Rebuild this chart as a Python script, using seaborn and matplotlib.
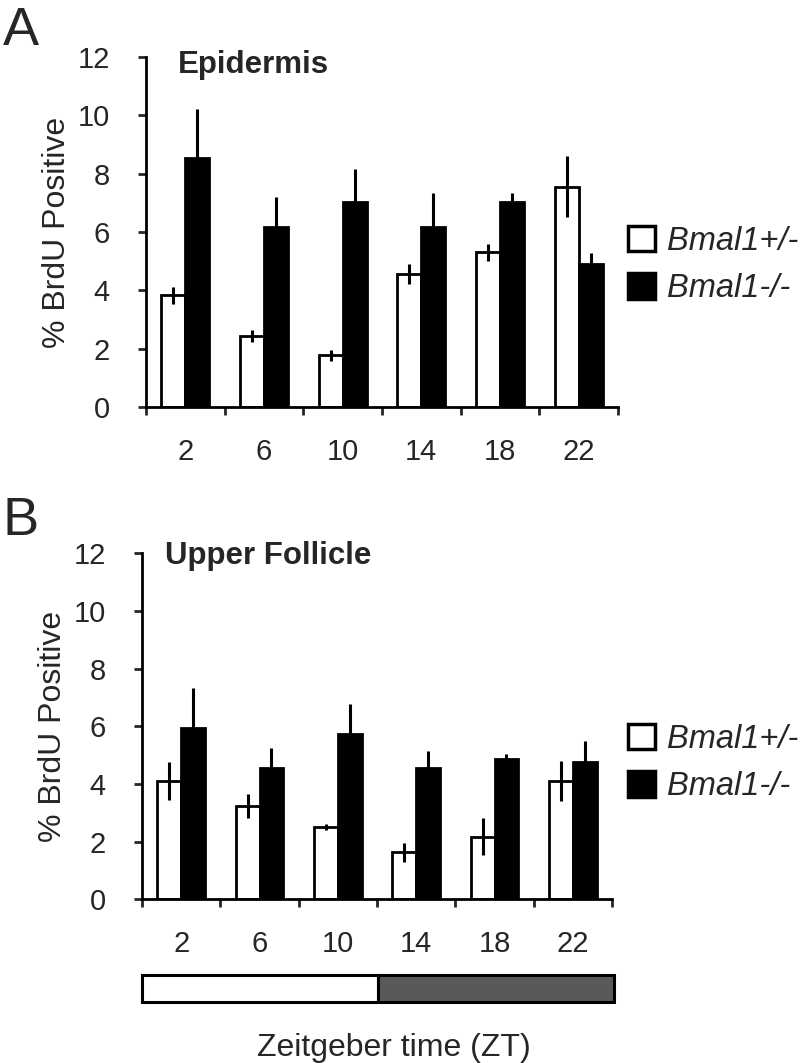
import pandas as pd
import matplotlib
matplotlib.use("Agg")
import matplotlib.pyplot as plt
from matplotlib.patches import Patch
import seaborn as sns


zt_labels = ["2", "6", "10", "14", "18", "22"]
genotypes = ["Bmal1+/-", "Bmal1-/-"]

# panel A - epidermis
epi_het = [3.83, 2.44, 1.78, 4.56, 5.30, 7.55]
epi_het_err = [0.28, 0.20, 0.18, 0.35, 0.30, 1.05]
epi_ko = [8.52, 6.17, 7.03, 6.17, 7.03, 4.89]
epi_ko_err = [1.68, 1.03, 1.13, 1.15, 0.30, 0.38]

# panel B - upper follicle
fol_het = [4.10, 3.24, 2.50, 1.63, 2.17, 4.10]
fol_het_err = [0.65, 0.41, 0.10, 0.33, 0.65, 0.70]
fol_ko = [5.95, 4.54, 5.75, 4.54, 4.87, 4.75]
fol_ko_err = [1.37, 0.72, 1.03, 0.62, 0.17, 0.74]

# light / dark bar under panel B
phase_names = ["Light", "Dark"]
phase_start = [0, 12]
phase_len = [12, 12]
phase_colors = ["white", "#595959"]

sns.set_theme(style="ticks")
plt.rcParams["font.family"] = ["Liberation Sans", "DejaVu Sans"]
plt.rcParams["axes.linewidth"] = 2

fig = plt.figure(figsize=(8.02, 10.63), dpi=100)
axA = fig.add_axes([146 / 802, 1 - 407.3 / 1063, 472 / 802, 350.6 / 1063])
axB = fig.add_axes([142 / 802, 1 - 899.3 / 1063, 470 / 802, 346 / 1063])
axL = fig.add_axes([142 / 802, 1 - 1002 / 1063, 472 / 802, 27 / 1063])


def draw_panel(ax, het, het_err, ko, ko_err, title, tx, ty):
    df = pd.DataFrame({
        "ZT": zt_labels * 2,
        "Genotype": [genotypes[0]] * 6 + [genotypes[1]] * 6,
        "pct": het + ko,
    })
    sns.barplot(data=df, x="ZT", y="pct", hue="Genotype", order=zt_labels,
                hue_order=genotypes, palette=["white", "black"], saturation=1,
                edgecolor="black", linewidth=2, width=0.61, errorbar=None,
                legend=False, ax=ax)
    # error bars (mean + sem)
    for cont, errs in zip(ax.containers, [het_err, ko_err]):
        xs = [p.get_x() + p.get_width() / 2 for p in cont.patches]
        ys = [p.get_height() for p in cont.patches]
        ax.errorbar(xs, ys, yerr=errs, fmt="none", ecolor="black",
                    elinewidth=2.2, capsize=0, zorder=4)

    ax.set_ylim(0, 12)
    ax.set_xlim(-0.5, 5.5)
    ax.set_yticks(range(0, 13, 2))
    ax.set_xticks(range(6))
    ax.set_xticklabels(zt_labels)
    ax.set_xticks([i - 0.5 for i in range(7)], minor=True)
    ax.tick_params(axis="x", which="major", length=0, pad=22, labelsize=21)
    ax.tick_params(axis="x", which="minor", length=6, width=2, direction="out")
    ax.tick_params(axis="y", length=6, width=2, direction="out", pad=20, labelsize=21)
    ax.set_xlabel("")
    ax.set_ylabel("% BrdU Positive", fontsize=23)
    ax.yaxis.set_label_coords(-0.157, 0.5)
    sns.despine(ax=ax)
    for s in ["left", "bottom"]:
        ax.spines[s].set_color("black")
    ax.text(tx, ty, title, transform=ax.transAxes, fontsize=22.5,
            fontweight="bold", va="center", ha="left")


draw_panel(axA, epi_het, epi_het_err, epi_ko, epi_ko_err, "Epidermis", 0.068, 0.976)
draw_panel(axB, fol_het, fol_het_err, fol_ko, fol_ko_err, "Upper Follicle", 0.049, 0.992)

# legends
handles = [Patch(facecolor="white", edgecolor="black", linewidth=2.5),
           Patch(facecolor="black", edgecolor="black", linewidth=2.5)]
for ytop in [226, 724]:
    fig.legend(handles, genotypes, loc="upper left",
               bbox_to_anchor=(628 / 802, 1 - ytop / 1063), frameon=False,
               prop={"style": "italic", "size": 23.5}, handlelength=0.82,
               handleheight=0.82, handletextpad=0.38, labelspacing=0.5,
               borderpad=0, borderaxespad=0)

# light/dark cycle bar
axL.barh([0, 0], phase_len, left=phase_start, height=1, color=phase_colors,
         edgecolor="black", linewidth=2.2, clip_on=False)
axL.set_xlim(0, 24)
axL.set_ylim(-0.5, 0.5)
axL.axis("off")

fig.text(394 / 802, 1 - 1048 / 1063, "Zeitgeber time (ZT)", fontsize=23,
         ha="center", va="center")

fig.text(0.003, 1 - 6 / 1063, "A", fontsize=39, va="top", ha="left")
fig.text(0.003, 1 - 496 / 1063, "B", fontsize=39, va="top", ha="left")

fig.savefig("out.png", dpi=100)
